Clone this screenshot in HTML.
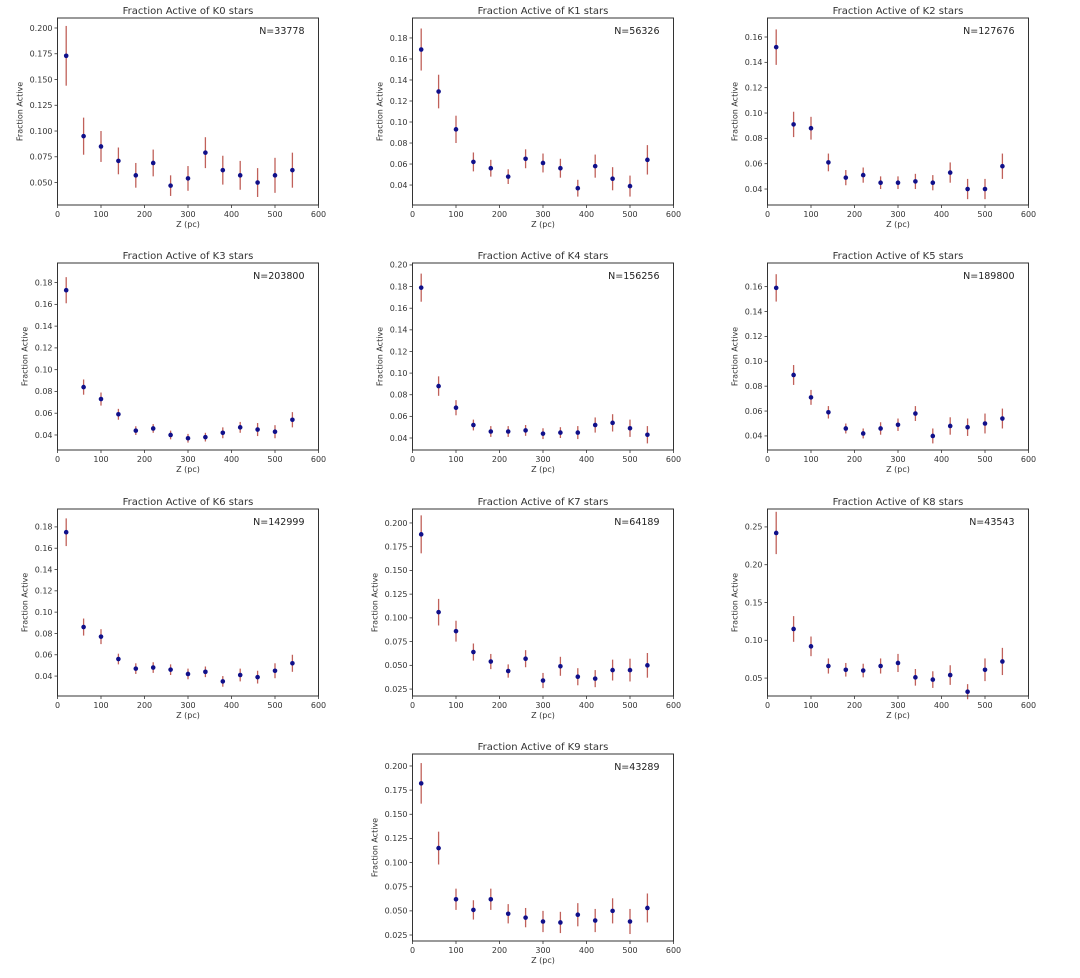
<!DOCTYPE html>
<html><head><meta charset="utf-8">
<style>
html,body{margin:0;padding:0;background:#fff;}
svg{display:block;font-family:"DejaVu Sans","Liberation Sans",sans-serif;}
</style></head>
<body>
<svg id="s" width="1080" height="978" xmlns="http://www.w3.org/2000/svg"></svg>
<script>
const P=[
 {n:"K0",N:"33778",c:0,r:0,ymin:.0282,ymax:.2097,t0:.05,t1:.2,ts:.025,d:3,
  v:[[.173,.029],[.095,.018],[.085,.015],[.071,.013],[.057,.012],[.069,.013],[.047,.01],[.054,.012],[.079,.015],[.062,.014],[.057,.014],[.050,.014],[.057,.017],[.062,.017]]},
 {n:"K1",N:"56326",c:1,r:0,ymin:.021,ymax:.199,t0:.04,t1:.18,ts:.02,d:2,
  v:[[.169,.02],[.129,.016],[.093,.013],[.062,.009],[.056,.008],[.048,.007],[.065,.009],[.061,.009],[.056,.009],[.037,.008],[.058,.011],[.046,.011],[.039,.01],[.064,.014]]},
 {n:"K2",N:"127676",c:2,r:0,ymin:.0274,ymax:.175,t0:.04,t1:.16,ts:.02,d:2,
  v:[[.152,.014],[.091,.01],[.088,.009],[.061,.007],[.049,.006],[.051,.006],[.045,.005],[.045,.005],[.046,.006],[.045,.006],[.053,.008],[.040,.008],[.040,.008],[.058,.01]]},
 {n:"K3",N:"203800",c:0,r:1,ymin:.0262,ymax:.198,t0:.04,t1:.18,ts:.02,d:2,
  v:[[.173,.012],[.084,.007],[.073,.006],[.059,.005],[.044,.004],[.046,.004],[.040,.004],[.037,.004],[.038,.004],[.042,.005],[.047,.005],[.045,.006],[.043,.006],[.054,.007]]},
 {n:"K4",N:"156256",c:1,r:1,ymin:.0289,ymax:.2018,t0:.04,t1:.2,ts:.02,d:2,
  v:[[.179,.013],[.088,.009],[.068,.007],[.052,.005],[.046,.005],[.046,.005],[.047,.005],[.044,.005],[.045,.005],[.045,.006],[.052,.007],[.054,.008],[.049,.008],[.043,.008]]},
 {n:"K5",N:"189800",c:2,r:1,ymin:.0287,ymax:.179,t0:.04,t1:.16,ts:.02,d:2,
  v:[[.159,.011],[.089,.008],[.071,.006],[.059,.005],[.046,.004],[.042,.004],[.046,.005],[.049,.005],[.058,.006],[.040,.006],[.048,.007],[.047,.007],[.050,.008],[.054,.008]]},
 {n:"K6",N:"142999",c:0,r:2,ymin:.0213,ymax:.1968,t0:.04,t1:.18,ts:.02,d:2,
  v:[[.175,.013],[.086,.008],[.077,.007],[.056,.005],[.047,.005],[.048,.005],[.046,.005],[.042,.005],[.044,.005],[.035,.005],[.041,.006],[.039,.006],[.045,.007],[.052,.008]]},
 {n:"K7",N:"64189",c:1,r:2,ymin:.0177,ymax:.2147,t0:.025,t1:.2,ts:.025,d:3,
  v:[[.188,.02],[.106,.014],[.086,.011],[.064,.009],[.054,.008],[.044,.007],[.057,.009],[.034,.008],[.049,.01],[.038,.009],[.036,.009],[.045,.011],[.045,.012],[.050,.013]]},
 {n:"K8",N:"43543",c:2,r:2,ymin:.0263,ymax:.2737,t0:.05,t1:.25,ts:.05,d:2,
  v:[[.242,.028],[.115,.017],[.092,.013],[.066,.01],[.061,.009],[.060,.009],[.066,.01],[.070,.012],[.051,.011],[.048,.011],[.054,.013],[.032,.01],[.061,.015],[.072,.018]]},
 {n:"K9",N:"43289",c:1,r:3,ymin:.0188,ymax:.2124,t0:.025,t1:.2,ts:.025,d:3,
  v:[[.182,.021],[.115,.017],[.062,.011],[.051,.01],[.062,.011],[.047,.01],[.043,.01],[.039,.011],[.038,.011],[.046,.012],[.040,.012],[.050,.013],[.039,.013],[.053,.015]]}
];
const tops=[18,263,509,754];
let h='';
const W=261,H=187;
for(const p of P){
 const x0=57.5+p.c*355, y0=tops[p.r];
 const X=v=>x0+v/600*W, Y=v=>y0+H-(v-p.ymin)/(p.ymax-p.ymin)*H;
 h+=`<text x="${x0+W/2}" y="${y0-4}" font-size="10" fill="#333" text-anchor="middle">Fraction Active of ${p.n} stars</text>`;
 h+=`<text x="${x0+W-14}" y="${y0+16}" font-size="9.5" fill="#222" text-anchor="end">N=${p.N}</text>`;
 for(let t=0;t<=600;t+=100){const x=X(t);
  h+=`<line x1="${x}" y1="${y0+H}" x2="${x}" y2="${y0+H+3}" stroke="#333" stroke-width="0.8"/>`;
  h+=`<text x="${x}" y="${y0+H+12}" font-size="8" fill="#333" text-anchor="middle">${t}</text>`;}
 for(let t=p.t0;t<=p.t1+1e-9;t+=p.ts){const y=Y(t);
  h+=`<line x1="${x0-3}" y1="${y}" x2="${x0}" y2="${y}" stroke="#333" stroke-width="0.8"/>`;
  h+=`<text x="${x0-5}" y="${y+2.8}" font-size="8" fill="#333" text-anchor="end">${t.toFixed(p.d)}</text>`;}
 h+=`<text x="${x0+W/2}" y="${y0+H+22}" font-size="8" fill="#333" text-anchor="middle">Z (pc)</text>`;
 const lx=x0-(p.d==3?35:30), ly=y0+H/2;
 h+=`<text x="${lx}" y="${ly}" font-size="8" fill="#333" text-anchor="middle" transform="rotate(-90 ${lx} ${ly})">Fraction Active</text>`;
 p.v.forEach((d,i)=>{const x=X(20+40*i);
  h+=`<line x1="${x}" y1="${Y(d[0]+d[1])}" x2="${x}" y2="${Y(d[0]-d[1])}" stroke="#c0605a" stroke-width="1.3"/>`;
  h+=`<circle cx="${x}" cy="${Y(d[0])}" r="2.3" fill="#10108a"/>`;});
 h+=`<rect x="${x0}" y="${y0}" width="${W}" height="${H}" fill="none" stroke="#333" stroke-width="1"/>`;
}
document.getElementById('s').innerHTML=h;
</script>
</body></html>
